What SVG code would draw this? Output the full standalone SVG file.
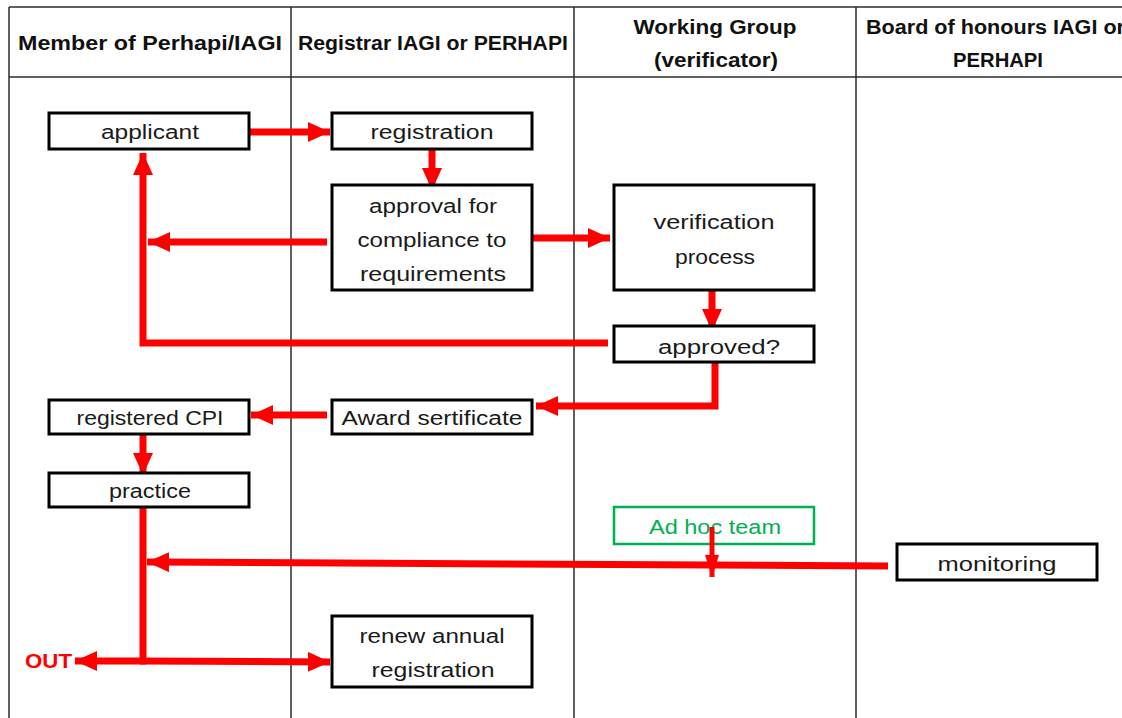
<svg xmlns="http://www.w3.org/2000/svg" width="1122" height="718" viewBox="0 0 1122 718">
<defs>
<style>
.grid{stroke:#2b2b2b;stroke-width:1.5;fill:none}
.hd{font-family:"Liberation Sans",Arial,sans-serif;font-weight:bold;font-size:20px;fill:#111;text-anchor:middle}
.box{fill:#fff;stroke:#000;stroke-width:3}
.gbox{fill:#fff;stroke:#00b050;stroke-width:2.5}
.t{font-family:"Liberation Sans",Arial,sans-serif;font-size:20px;fill:#1a1a1a;text-anchor:middle}
.g{fill:#00b050}
.c{stroke:#ff0000;stroke-width:7;fill:none;stroke-linejoin:miter}
.c2{stroke:#ff0000;stroke-width:5;fill:none}
</style>
<marker id="ah" markerUnits="userSpaceOnUse" markerWidth="22" markerHeight="20" refX="22" refY="10" orient="auto"><path d="M0,0 L22,10 L0,20 z" fill="#ff0000"/></marker>
<marker id="ahs" markerUnits="userSpaceOnUse" markerWidth="22" markerHeight="14" refX="22" refY="7" orient="auto"><path d="M0,0 L22,7 L0,14 z" fill="#ff0000"/></marker>
</defs>
<rect width="1122" height="718" fill="#fff"/>
<g id="table">
<line class="grid" x1="9" y1="7" x2="1122" y2="7"/>
<line class="grid" x1="9" y1="77" x2="1122" y2="77"/>
<line class="grid" x1="9" y1="7" x2="9" y2="718"/>
<line class="grid" x1="291" y1="7" x2="291" y2="718"/>
<line class="grid" x1="574" y1="7" x2="574" y2="718"/>
<line class="grid" x1="856" y1="7" x2="856" y2="718"/>
<text class="hd" x="150" y="50" textLength="264" lengthAdjust="spacingAndGlyphs">Member of Perhapi/IAGI</text>
<text class="hd" x="433" y="50" textLength="270" lengthAdjust="spacingAndGlyphs">Registrar IAGI or PERHAPI</text>
<text class="hd" x="715" y="34" textLength="163" lengthAdjust="spacingAndGlyphs">Working Group</text>
<text class="hd" x="716" y="67" textLength="124" lengthAdjust="spacingAndGlyphs">(verificator)</text>
<text class="hd" x="866" y="34" style="text-anchor:start" textLength="259" lengthAdjust="spacingAndGlyphs">Board of honours IAGI or</text>
<text class="hd" x="998" y="67" textLength="90" lengthAdjust="spacingAndGlyphs">PERHAPI</text>
</g>
<g id="connectors">
<line class="c" x1="249" y1="132" x2="330" y2="132" marker-end="url(#ah)"/>
<line class="c" x1="432" y1="147" x2="432" y2="190" marker-end="url(#ah)"/>
<line class="c" x1="327" y1="242" x2="148" y2="242" marker-end="url(#ah)"/>
<line class="c" x1="532" y1="238" x2="610" y2="238" marker-end="url(#ah)"/>
<polyline class="c" points="608,343 143,343 143,153" marker-end="url(#ah)"/>
<line class="c" x1="712" y1="288" x2="712" y2="331" marker-end="url(#ah)"/>
<polyline class="c" points="715,360 715,406 536,406" marker-end="url(#ah)"/>
<line class="c" x1="327" y1="415" x2="251" y2="415" marker-end="url(#ah)"/>
<line class="c" x1="143" y1="432" x2="143" y2="475" marker-end="url(#ah)"/>
<line class="c" x1="888" y1="566" x2="147" y2="562" marker-end="url(#ah)"/>
<line class="c" x1="143" y1="505" x2="143" y2="661"/>
<line class="c" x1="146" y1="661" x2="75" y2="661" marker-end="url(#ah)"/>
<line class="c" x1="140" y1="661" x2="330" y2="662" marker-end="url(#ah)"/>
</g>
<g id="n-applicant"><rect class="box" x="49" y="113" width="200" height="36"/><text class="t" x="150" y="139" textLength="98" lengthAdjust="spacingAndGlyphs">applicant</text></g>
<g id="n-registration"><rect class="box" x="332" y="113" width="200" height="36"/><text class="t" x="432" y="139" textLength="123" lengthAdjust="spacingAndGlyphs">registration</text></g>
<g id="n-approval"><rect class="box" x="332" y="185" width="200" height="105"/><text class="t" x="433" y="213" textLength="128" lengthAdjust="spacingAndGlyphs">approval for</text><text class="t" x="432" y="247" textLength="149" lengthAdjust="spacingAndGlyphs">compliance to</text><text class="t" x="433" y="281" textLength="146" lengthAdjust="spacingAndGlyphs">requirements</text></g>
<g id="n-verification"><rect class="box" x="614" y="185" width="200" height="105"/><text class="t" x="714" y="229" textLength="121" lengthAdjust="spacingAndGlyphs">verification</text><text class="t" x="715" y="264" textLength="80" lengthAdjust="spacingAndGlyphs">process</text></g>
<g id="n-approved"><rect class="box" x="614" y="326" width="200" height="36"/><text class="t" x="719" y="354" textLength="122" lengthAdjust="spacingAndGlyphs">approved?</text></g>
<g id="n-registered"><rect class="box" x="49" y="400" width="200" height="34"/><text class="t" x="150" y="425" textLength="147" lengthAdjust="spacingAndGlyphs">registered CPI</text></g>
<g id="n-award"><rect class="box" x="332" y="400" width="200" height="34"/><text class="t" x="432" y="425" textLength="181" lengthAdjust="spacingAndGlyphs">Award sertificate</text></g>
<g id="n-practice"><rect class="box" x="49" y="473" width="200" height="34"/><text class="t" x="150" y="498" textLength="82" lengthAdjust="spacingAndGlyphs">practice</text></g>
<g id="n-adhoc"><rect class="gbox" x="614" y="507" width="200" height="37"/><text class="t g" x="715" y="534" textLength="132" lengthAdjust="spacingAndGlyphs">Ad hoc team</text></g>
<g id="n-monitoring"><rect class="box" x="897" y="544" width="200" height="36"/><text class="t" x="997" y="571" textLength="119" lengthAdjust="spacingAndGlyphs">monitoring</text></g>
<g id="n-renew"><rect class="box" x="332" y="616" width="200" height="71"/><text class="t" x="432" y="643" textLength="145" lengthAdjust="spacingAndGlyphs">renew annual</text><text class="t" x="433" y="677" textLength="123" lengthAdjust="spacingAndGlyphs">registration</text></g>
<g id="adhoc-arrow"><line class="c2" x1="712" y1="527" x2="712" y2="577" marker-end="url(#ahs)"/></g>
<g id="n-out"><text x="25" y="668" style="font-family:'Liberation Sans',Arial,sans-serif;font-weight:bold;font-size:20px;fill:#ff0000" textLength="47" lengthAdjust="spacingAndGlyphs">OUT</text></g>
</svg>
